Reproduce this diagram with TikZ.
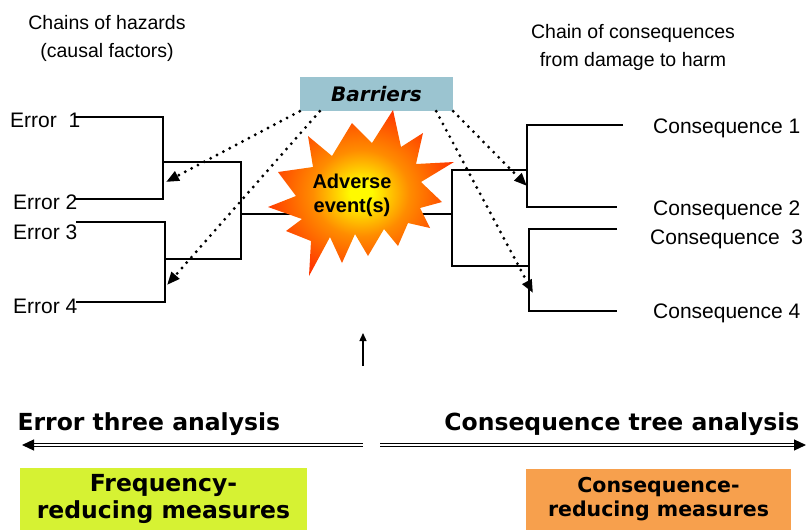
\documentclass[tikz,border=0pt]{standalone}
\usepackage{fontspec}
\setmainfont{Liberation Sans}
\newfontfamily\verdfont{DejaVu Sans}
\usepackage{tikz}
\usetikzlibrary{positioning,arrows.meta}
\tikzset{
  >={Triangle},
  branch/.style   ={line width=2.6pt},
  barrierarrow/.style={line width=3.2pt, line cap=round, dash pattern=on 0pt off 7.2pt,
                       -{Triangle[length=13pt,width=10pt]}},
  analysisarrow/.style={double, line width=1.1pt, double distance=2.2pt,
                       -{Triangle[length=12pt,width=11pt]}},
  leaf/.style     ={anchor=west, inner sep=0pt, font=\leaffont},
  measurebox/.style={inner sep=0pt, align=center},
}
\newcommand{\leaffont}{\fontsize{21}{24}\selectfont}
\newcommand{\topfont}{\fontsize{19.5}{28}\selectfont}
\newcommand{\headfont}{\verdfont\bfseries\fontsize{23.5}{27}\selectfont}
\definecolor{barrierblue}{RGB}{155,196,208}
\definecolor{freqgreen}{RGB}{214,242,51}
\definecolor{conseqorange}{RGB}{247,160,77}
\definecolor{burstyellow}{RGB}{255,250,0}
\definecolor{burstorange}{RGB}{255,140,0}
\definecolor{burstred}{RGB}{255,55,0}
\pgfdeclareradialshading{burst}{\pgfpoint{0bp}{0bp}}{color(0bp)=(burstyellow);
  color(3bp)=(burstyellow); color(13bp)=(burstorange); color(26bp)=(burstred);
  color(50bp)=(burstred)}

\begin{document}
\begin{tikzpicture}[x=1pt,y=-1pt]
  \useasboundingbox (0,0) rectangle (807,531);

  % headings
  \node[font=\topfont, align=center] (hazards) at (107,38) {Chains of hazards\\(causal factors)};
  \node[font=\topfont, align=center] (chain) at (633,47) {Chain of consequences\\from damage to harm};

  % left tree
  \node[leaf] (e1) at (10,120) {Error~ 1};
  \node[leaf] (e2) at (13,202) {Error 2};
  \node[leaf] (e3) at (13,232) {Error 3};
  \node[leaf] (e4) at (13,306) {Error 4};
  \coordinate (l1) at (75,117);
  \coordinate (l2) at (75,199);
  \coordinate (l3) at (76,222);
  \coordinate (l4) at (76,302);
  \coordinate (ja) at (163,162);
  \coordinate (jb) at (165,259);
  \coordinate (jl) at (241,214);
  \draw[branch] (l1) -| (ja) |- (l2);
  \draw[branch] (l3) -| (jb) |- (l4);
  \draw[branch] (ja) -| (jl) |- (jb);

  % right tree
  \node[leaf] (c1) at (653,128) {Consequence 1};
  \node[leaf] (c2) at (653,210) {Consequence 2};
  \node[leaf] (c3) at (650,239) {Consequence~ 3};
  \node[leaf] (c4) at (653,313) {Consequence 4};
  \coordinate (r1) at (623,125);
  \coordinate (r2) at (617,207);
  \coordinate (r3) at (617,229);
  \coordinate (r4) at (617,311);
  \coordinate (jc) at (527,170);
  \coordinate (jd) at (529,266);
  \coordinate (jr) at (452,214);
  \draw[branch] (r1) -| (jc) |- (r2);
  \draw[branch] (r3) -| (jd) |- (r4);
  \draw[branch] (jc) -| (jr) |- (jd);
  \draw[branch] (jl) -- (jr);

  % barriers
  \node[fill=barrierblue, minimum width=153pt, minimum height=34pt, inner sep=0pt,
        font=\verdfont\bfseries\itshape\fontsize{20}{24}\selectfont] (barriers) at (376.5,94) {Barriers};
  \coordinate (tipa) at (166,182);
  \coordinate (tipb) at (167,285);
  \coordinate (tipc) at (527,186);
  \coordinate (tipd) at (533,293);
  \draw[barrierarrow] (barriers.south west) -- (tipa);
  \draw[barrierarrow] ([xshift=20pt]barriers.south west) -- (tipb);
  \draw[barrierarrow] (barriers.south east) -- (tipc);
  \draw[barrierarrow] ([xshift=-17pt]barriers.south east) -- (tipd);

  % burst
  \shade[shading=burst] (308,136) -- (332,156) -- (352,123) -- (372,143) -- (393,110)
    -- (401,147) -- (423,133) -- (416,164) -- (454,162) -- (421,182) -- (442,202)
    -- (420,208) -- (430,228) -- (408,223) -- (398,246) -- (384,229) -- (368,256)
    -- (355,234) -- (342,263) -- (330,237) -- (309,276) -- (311,241) -- (286,231)
    -- (302,219) -- (268,207) -- (296,196) -- (278,172) -- (313,167) -- cycle;
  \node[align=center, font=\bfseries\fontsize{20}{24}\selectfont] (adverse) at (352,195) {Adverse\\event(s)};

  \coordinate (markbot) at (363,366);
  \coordinate (marktop) at (363,333);
  \draw[line width=1.3pt, -{Triangle[length=8pt,width=7pt]}] (markbot) -- (marktop);

  % analysis
  \node[anchor=west, font=\headfont] (eta) at (14,424) {Error three analysis};
  \node[anchor=east, font=\headfont] (cta) at (803,424) {Consequence tree analysis};
  \coordinate (lfrom) at (363,445);
  \coordinate (lto) at (22,445);
  \coordinate (rfrom) at (380,445);
  \coordinate (rto) at (806,445);
  \draw[analysisarrow] (lfrom) -- (lto);
  \draw[analysisarrow] (rfrom) -- (rto);

  % measures
  \node[measurebox, fill=freqgreen, minimum width=287pt, minimum height=62pt,
        font=\headfont] (freq) at (163.5,499) {Frequency-\\reducing measures};
  \node[measurebox, fill=conseqorange, minimum width=265pt, minimum height=61pt,
        font=\verdfont\bfseries\fontsize{20.5}{24}\selectfont] (conseq) at (658.5,499.5) {Consequence-\\reducing measures};
\end{tikzpicture}
\end{document}
